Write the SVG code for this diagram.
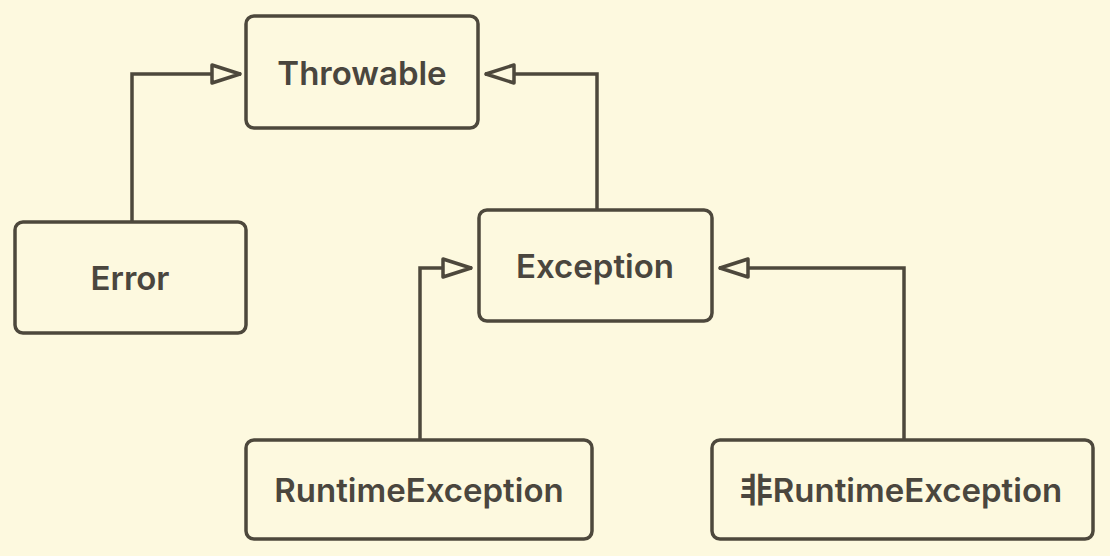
<svg xmlns="http://www.w3.org/2000/svg" width="1110" height="556" viewBox="0 0 1110 556">
<style>
.box{fill:#fdf9df;stroke:#4d483c;stroke-width:3.5}
.lbl{font-family:Inter,"Liberation Sans","Noto Sans CJK SC",sans-serif;font-weight:600;font-size:33px;fill:#4a463e;text-anchor:middle;dominant-baseline:central}
.conn{fill:none;stroke:#4d483c;stroke-width:3.5}
</style>
<defs>
<marker id="tri" viewBox="0 0 32 24" refX="31" refY="12" markerWidth="32" markerHeight="24" markerUnits="userSpaceOnUse" orient="auto">
<path d="M2,3 L30,12 L2,21 Z" fill="#fdf9df" stroke="#4d483c" stroke-width="3.5" stroke-linejoin="round"/>
</marker>
</defs>
<rect width="1110" height="556" fill="#fdf9df"/>
<g id="connectors">
<path class="conn" d="M132,222 V74 H241" marker-end="url(#tri)"/>
<path class="conn" d="M597,210 V74 H485" marker-end="url(#tri)"/>
<path class="conn" d="M420,440 V268 H472" marker-end="url(#tri)"/>
<path class="conn" d="M904,440 V268 H719" marker-end="url(#tri)"/>
</g>
<g id="throwable"><rect class="box" x="246" y="16" width="232" height="112" rx="8"/><text class="lbl" x="362" y="73">Throwable</text></g>
<g id="error"><rect class="box" x="15" y="222" width="231" height="111" rx="8"/><text class="lbl" x="130" y="278">Error</text></g>
<g id="exception"><rect class="box" x="479" y="210" width="233" height="111" rx="8"/><text class="lbl" x="595" y="266">Exception</text></g>
<g id="runtime"><rect class="box" x="246" y="440" width="346" height="99" rx="8"/><text class="lbl" x="419" y="490">RuntimeException</text></g>
<g id="nonruntime"><rect class="box" x="712" y="440" width="381" height="99" rx="8"/><text class="lbl" x="901" y="490">非RuntimeException</text></g>
</svg>
